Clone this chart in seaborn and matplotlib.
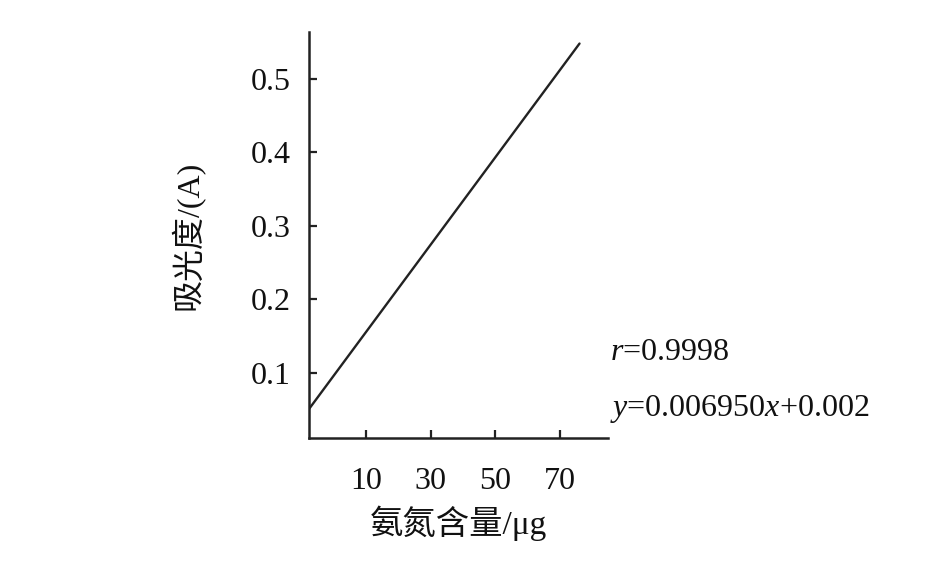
import matplotlib
matplotlib.use("Agg")
import matplotlib.pyplot as plt
import seaborn as sns

# line endpoints
x_vals = [-7.6, 76.0]
y_vals = [0.0503, 0.5476]
x_ticks = [10, 30, 50, 70]
y_ticks = [0.1, 0.2, 0.3, 0.4, 0.5]
x_label = "氨氮含量/μg"
y_label = "吸光度/(A)"
r_text = r"$r$=0.9998"
eq_text = r"$y$=0.006950$x$+0.002"

sns.set_style("ticks")
plt.rcParams["font.family"] = ["Liberation Serif", "Noto Sans CJK SC"]
plt.rcParams["mathtext.fontset"] = "custom"
plt.rcParams["mathtext.rm"] = "Liberation Serif"
plt.rcParams["mathtext.it"] = "Liberation Serif:italic"

fig = plt.figure(figsize=(9.45, 5.67), dpi=100)
ax = fig.add_axes([309 / 945, 1 - 438 / 567, (608 - 309) / 945, (438 - 32) / 567])

sns.lineplot(x=x_vals, y=y_vals, ax=ax, color="#222222", linewidth=1.7)

ax.set_xlim(-7.6, 84.8)
ax.set_ylim(0.0109, 0.5633)
ax.set_xticks(x_ticks)
ax.set_yticks(y_ticks)
ax.set_yticklabels([f"{v:.1f}" for v in y_ticks])

sns.despine(ax=ax)
for side in ("left", "bottom"):
    ax.spines[side].set_linewidth(1.8)
    ax.spines[side].set_color("#222222")

ax.tick_params(axis="both", direction="in", length=6, width=1.6,
               color="#222222", labelsize=23, labelcolor="#111111")
ax.tick_params(axis="y", pad=13)
ax.tick_params(axis="x", pad=21)

ax.set_xlabel(x_label, fontsize=24, color="#111111", labelpad=7)
ax.set_ylabel(y_label, fontsize=23, color="#111111", labelpad=33)

fig.text(610 / 945, 1 - 353 / 567, r_text, fontsize=23, color="#111111", va="center")
fig.text(610 / 945, 1 - 409 / 567, eq_text, fontsize=23, color="#111111", va="center")

fig.savefig("out.png", dpi=100)
